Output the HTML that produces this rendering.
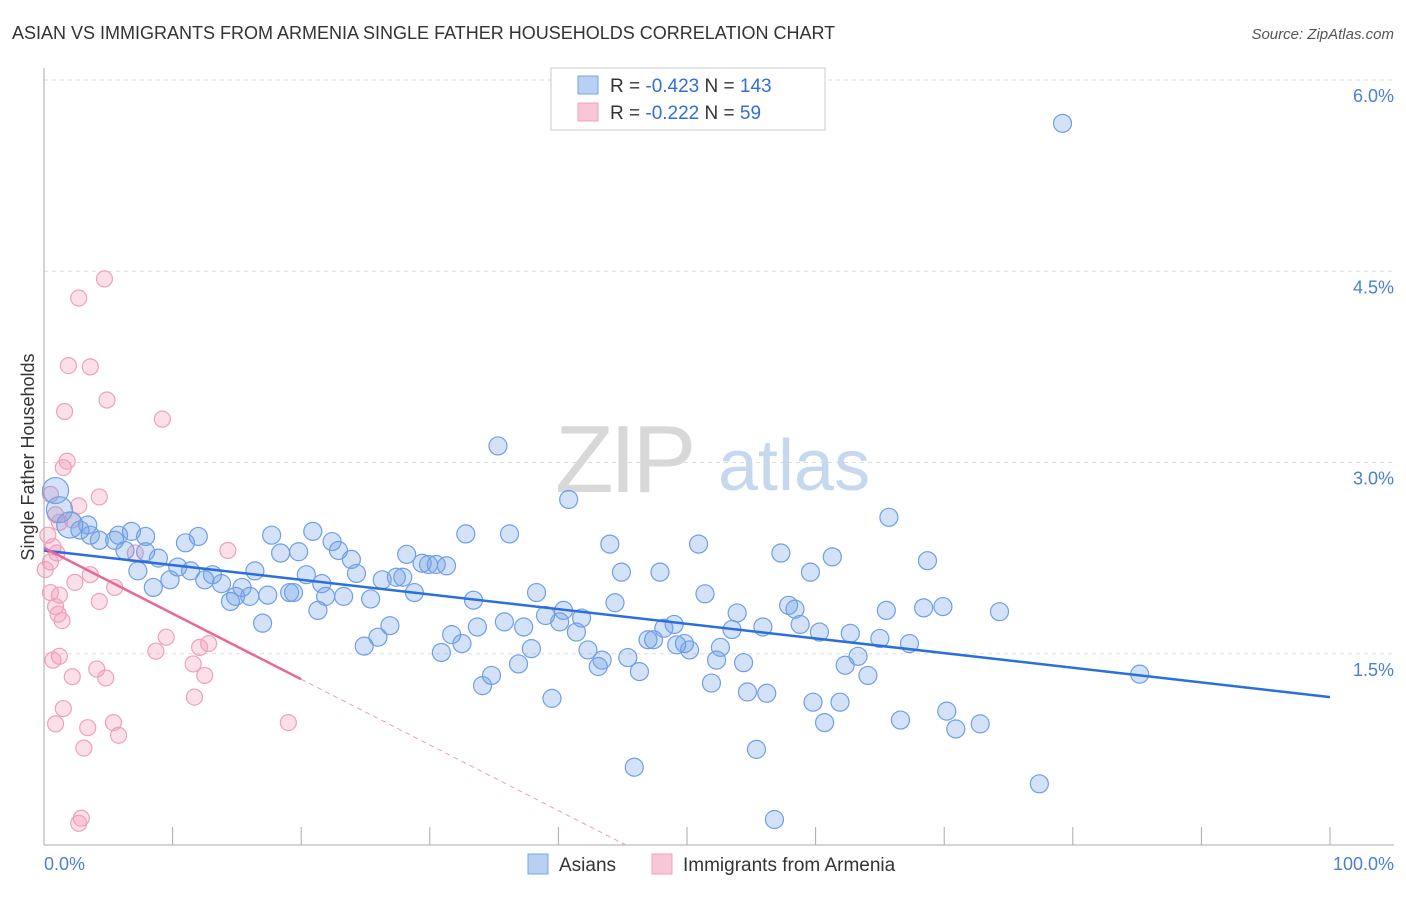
<!DOCTYPE html>
<html><head><meta charset="utf-8"><style>
body{margin:0;background:#fff;font-family:"Liberation Sans",sans-serif}
svg text{font-family:"Liberation Sans",sans-serif}
</style></head><body>
<svg id="chart" width="1406" height="892" viewBox="0 0 1406 892" xmlns="http://www.w3.org/2000/svg">
<text x="12" y="39" font-size="18" fill="#333">ASIAN VS IMMIGRANTS FROM ARMENIA SINGLE FATHER HOUSEHOLDS CORRELATION CHART</text>
<text x="1394" y="39" font-size="15" fill="#555" text-anchor="end" font-style="italic">Source: ZipAtlas.com</text>
<g id="grid"></g>
<g>
<text x="555" y="492" font-size="96" fill="#d8d8d8" font-family="Liberation Serif" letter-spacing="-4">ZIP</text>
<text x="718" y="490" font-size="72" fill="#c6d8ee">atlas</text>
</g>
<line x1="44" y1="68" x2="44" y2="845" stroke="#aaa"/>
<line x1="44" y1="845" x2="1394" y2="845" stroke="#aaa"/>
<g id="ticks"></g>
<text transform="translate(34,457) rotate(-90)" font-size="18" fill="#333" text-anchor="middle">Single Father Households</text>
<text x="44" y="870" font-size="18" fill="#4a7fd6">0.0%</text>
<text x="1394" y="870" font-size="18" fill="#4a7fd6" text-anchor="end">100.0%</text>
<g id="pts"></g>
<g id="trends"></g>
<g>
<rect x="551" y="68" width="274" height="62" fill="#fff" stroke="#ccc"/>
<rect x="578" y="76" width="20" height="18" fill="#b7d0f3" stroke="#7aa6e8"/>
<rect x="578" y="103" width="20" height="18" fill="#f8c6d6" stroke="#f0a0bc"/>
<text x="610" y="92" font-size="19" fill="#333">R = <tspan fill="#2f6fd6">-0.423</tspan>   N = <tspan fill="#2f6fd6">143</tspan></text>
<text x="610" y="119" font-size="19" fill="#333">R = <tspan fill="#2f6fd6">-0.222</tspan>   N =  <tspan fill="#2f6fd6"> 59</tspan></text>
</g>
<g>
<rect x="528" y="854" width="20" height="20" fill="#b7d0f3" stroke="#7aa6e8"/>
<text x="559" y="871" font-size="19" fill="#333">Asians</text>
<rect x="652" y="854" width="20" height="20" fill="#f8c6d6" stroke="#f0a0bc"/>
<text x="683" y="871" font-size="19" fill="#333">Immigrants from Armenia</text>
</g>
</svg>
<script>
const yTicks=[1.5,3.0,4.5,6.0];
const xTickCount=10;
const blueX=[79.2,35.3,40.8,65.7,0.9,1.2,2.0,2.8,3.6,4.3,5.5,6.8,7.9,6.3,7.9,7.3,8.5,8.9,9.8,10.4,11.0,12.0,11.4,12.5,13.1,13.8,14.5,14.9,15.4,16.0,16.4,17.0,17.4,17.7,18.4,19.1,19.4,19.8,20.4,20.9,21.3,21.6,21.9,22.4,22.9,23.3,23.9,24.3,24.9,25.4,25.97,26.3,26.9,27.4,27.9,28.2,28.8,29.4,29.9,30.5,31.3,30.9,31.7,32.5,32.8,33.4,33.7,34.1,34.8,35.8,36.2,36.9,37.3,37.9,38.3,39.0,39.5,40.1,40.4,41.4,41.8,42.3,43.1,43.4,44.0,44.4,44.9,45.4,45.9,46.3,46.97,47.4,47.9,48.2,49.0,49.2,49.8,50.2,50.9,51.4,51.9,52.3,52.6,53.5,53.9,54.4,54.7,55.4,55.9,56.2,56.8,57.3,57.9,58.4,58.8,59.6,59.8,60.3,60.7,61.3,61.9,62.3,62.7,63.3,64.07,65.0,65.5,66.6,67.3,68.4,68.7,69.9,70.2,70.9,72.8,74.3,77.4,85.2,5.8,3.4];
const blueY=[5.66,3.13,2.71,2.57,2.78,2.63,2.51,2.47,2.43,2.39,2.39,2.46,2.42,2.31,2.30,2.15,2.02,2.25,2.08,2.18,2.37,2.42,2.15,2.08,2.12,2.05,1.91,1.95,2.02,1.95,2.15,1.74,1.96,2.43,2.29,1.98,1.98,2.30,2.12,2.46,1.84,2.05,1.95,2.38,2.31,1.95,2.24,2.13,1.56,1.93,1.63,2.08,1.72,2.10,2.10,2.28,1.98,2.21,2.20,2.20,2.19,1.51,1.65,1.58,2.44,1.92,1.71,1.25,1.33,1.75,2.44,1.42,1.71,1.54,1.98,1.80,1.15,1.75,1.84,1.67,1.78,1.53,1.40,1.45,2.36,1.90,2.14,1.47,0.61,1.36,1.61,1.61,2.14,1.70,1.73,1.57,1.58,1.53,2.36,1.97,1.27,1.45,1.55,1.69,1.82,1.43,1.20,0.75,1.71,1.19,0.20,2.29,1.88,1.85,1.73,2.14,1.12,1.67,0.96,2.26,1.12,1.41,1.66,1.48,1.33,1.62,1.84,0.98,1.58,1.86,2.23,1.87,1.05,0.91,0.95,1.83,0.48,1.34,2.43,2.51];
const pinkX=[4.7,2.7,1.9,3.6,4.9,1.6,9.2,1.8,1.5,4.3,2.7,0.5,0.9,1.2,2.2,0.3,0.7,1.0,14.3,7.1,0.5,0.1,3.6,2.4,5.5,0.5,1.2,4.3,0.9,1.1,1.4,9.5,12.8,12.1,8.7,1.2,0.7,11.6,4.1,12.5,2.2,4.8,11.7,1.5,19.0,5.4,0.9,3.4,5.8,3.1,2.9,2.7];
const pinkY=[4.44,4.29,3.76,3.75,3.49,3.40,3.34,3.01,2.96,2.73,2.66,2.75,2.59,2.53,2.55,2.43,2.34,2.29,2.31,2.29,2.22,2.16,2.12,2.06,2.02,1.98,1.96,1.91,1.87,1.81,1.76,1.63,1.58,1.55,1.52,1.48,1.45,1.42,1.38,1.33,1.32,1.31,1.16,1.07,0.96,0.96,0.95,0.92,0.86,0.76,0.21,0.17];
const blueTrend=[2.31,1.16];
const pinkTrend=[2.33,1.30];
const pinkTrendEnd=20;
const NS='http://www.w3.org/2000/svg';
const X=v=>44+v*12.86, Y=v=>845-v*127.5;
function mk(t,a,p){const e=document.createElementNS(NS,t);for(const k in a)e.setAttribute(k,a[k]);p.appendChild(e);return e;}
const grid=document.getElementById('grid'), ticks=document.getElementById('ticks');
yTicks.forEach(v=>{
 const l=mk('line',{x1:44,x2:1394,y1:Y(v),y2:Y(v),stroke:'#ddd','stroke-dasharray':'4,4'},grid);
 
 
 const t=mk('text',{x:1394,y:Y(v)+22,'font-size':18,fill:'#4a7fd6','text-anchor':'end'},grid);
 t.textContent=v.toFixed(1)+'%';
 
 
});
for(let i=0;i<=xTickCount;i++){
 const l=mk('line',{x1:X(i*10),x2:X(i*10),y1:827,y2:845,stroke:'#aaa'},ticks);
 
 
}
const pts=document.getElementById('pts');
pinkX.forEach((x,i)=>{
 const c=mk('circle',{cx:X(x),cy:Y(pinkY[i]),r:8,fill:'rgba(242,150,182,0.3)',stroke:'#f0a0bc','stroke-width':1.2},pts);
 
 
});
blueX.forEach((x,i)=>{
 const r=(x<2.5&&blueY[i]>2.4)?13:9;
 const c=mk('circle',{cx:X(x),cy:Y(blueY[i]),r:r,fill:'rgba(110,160,230,0.3)',stroke:'#6f9fe6','stroke-width':1.2},pts);
 
 
});
const tr=document.getElementById('trends');
const bl=mk('line',{x1:X(0),y1:Y(blueTrend[0]),x2:X(100),y2:Y(blueTrend[1]),stroke:'#2a6fdb','stroke-width':2.5},tr);


const slope=(pinkTrend[1]-pinkTrend[0])/pinkTrendEnd;
const pl=mk('line',{x1:X(0),y1:Y(pinkTrend[0]),x2:X(pinkTrendEnd),y2:Y(pinkTrend[1]),stroke:'#e8689a','stroke-width':2.5},tr);


const xz=-pinkTrend[0]/slope;
const pd=mk('line',{x1:X(pinkTrendEnd),y1:Y(pinkTrend[1]),x2:X(xz),y2:Y(0),stroke:'#e8a0bc','stroke-width':1,'stroke-dasharray':'5,4'},tr);


</script>
</body></html>
